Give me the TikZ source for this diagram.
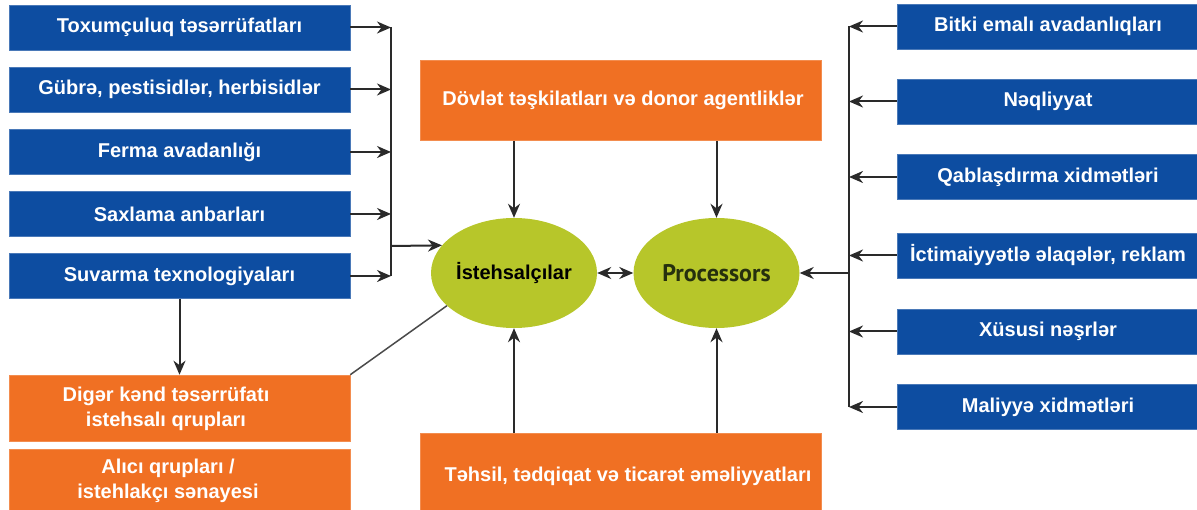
\documentclass[tikz,border=0pt]{standalone}
\usepackage{fontspec}
\setmainfont{Liberation Sans}
\newfontfamily\procfont{PT Sans}
\usetikzlibrary{arrows.meta,shapes.geometric}
\definecolor{boxblue}{HTML}{0D4DA1}
\definecolor{boxorange}{HTML}{F07023}
\definecolor{ovalgreen}{HTML}{B7C62A}
\definecolor{wire}{HTML}{2A2A2A}
\definecolor{proctext}{HTML}{26300E}
\begin{document}
\begin{tikzpicture}[x=1pt,y=-1pt,
  boxtext/.style={text=white, font=\bfseries\fontsize{20}{24.5}\selectfont, inner sep=0pt, align=center},
  bluebox/.style={boxtext, fill=boxblue, draw=boxblue!75!white, line width=0.6pt, minimum height=45pt},
  leftbox/.style={bluebox, minimum width=341pt},
  rightbox/.style={bluebox, minimum width=302pt},
  orangebox/.style={boxtext, fill=boxorange, draw=boxorange!80!white, line width=0.6pt},
  oval/.style={ellipse, fill=ovalgreen, minimum width=166pt, minimum height=110pt, inner sep=0pt},
  wireline/.style={draw=wire, line width=2pt},
  tip/.tip={Stealth[length=14pt,width=12pt,inset=4.5pt]},
  arr/.style={wireline, -tip},
]
\useasboundingbox (0,0) rectangle (1197,510);

% input suppliers on the left
\node[leftbox] (L1) at (179.5,27.5)  {Toxumçuluq təsərrüfatları};
\node[leftbox] (L2) at (179.5,89.5)  {Gübrə, pestisidlər, herbisidlər};
\node[leftbox] (L3) at (179.5,152)   {Ferma avadanlığı};
\node[leftbox] (L4) at (179.5,214)   {Saxlama anbarları};
\node[leftbox] (L5) at (179.5,276)   {Suvarma texnologiyaları};

% producer groups and buyers
\node[orangebox, minimum width=341pt, minimum height=66pt] (dig) at (179.5,408) {};
\node[boxtext] (digtext) at (166,409) {Digər kənd təsərrüfatı\\istehsalı qrupları};
\node[orangebox, minimum width=341pt, minimum height=66pt] (buy) at (179.5,482) {};
\node[boxtext] (buytext) at (168,481) {Alıcı qrupları /\\istehlakçı sənayesi};

% institutions
\node[orangebox, minimum width=401pt, minimum height=80pt] (gov) at (620.5,100.5) {};
\node[boxtext] (govtext) at (623,100) {Dövlət təşkilatları və donor agentliklər};
\node[orangebox, minimum width=401pt, minimum height=82pt] (edu) at (620.5,474) {};
\node[boxtext] (edutext) at (628,476) {Təhsil, tədqiqat və ticarət əməliyyatları};

% the two actors
\node[oval, font=\bfseries\fontsize{20}{24}\selectfont] (prod) at (514,273) {İstehsalçılar};
\node[oval, font=\procfont\bfseries\fontsize{24}{28}\selectfont, text=proctext] (proc) at (716.5,273) {Processors};

% service providers on the right
\node[rightbox] (R1) at (1048,26.5)  {Bitki emalı avadanlıqları};
\node[rightbox] (R2) at (1048,101.5) {Nəqliyyat};
\node[rightbox] (R3) at (1048,177)   {Qablaşdırma xidmətləri};
\node[rightbox] (R4) at (1048,255.5) {İctimaiyyətlə əlaqələr, reklam};
\node[rightbox] (R5) at (1048,331.5) {Xüsusi nəşrlər};
\node[rightbox] (R6) at (1048,407)   {Maliyyə xidmətləri};

% left collecting bus
\coordinate (lbusT) at (391,27.5);
\coordinate (lbusB) at (391,276);
\coordinate (lbusM) at (391,246);
\draw[wireline] (lbusT) -- (lbusB);
\foreach \n in {L1,L2,L3,L4,L5}
  \draw[arr] (\n.east) -- (\n.east -| lbusT);
\draw[arr] (lbusM) -- (prod.159);

% right collecting bus
\coordinate (rbusT) at (849,26.5);
\coordinate (rbusB) at (849,407);
\coordinate (rbusM) at (849,273);
\draw[wireline] (rbusT) -- (rbusB);
\foreach \n in {R1,R2,R3,R4,R5,R6}
  \draw[arr] (\n.west) -- (\n.west -| rbusT);
\draw[arr] (rbusM) -- (proc.east);

% institutional links
\draw[arr] (gov.south -| prod.north) -- (prod.north);
\draw[arr] (gov.south -| proc.north) -- (proc.north);
\draw[arr] (edu.north -| prod.south) -- (prod.south);
\draw[arr] (edu.north -| proc.south) -- (proc.south);

% links between actors and groups
\draw[wireline, tip-tip] (prod.east) -- (proc.west);
\draw[arr] (L5.south) -- (dig.north);
\draw[draw=wire!85!white, line width=1.5pt] (dig.north east) -- (prod.206);
\end{tikzpicture}
\end{document}
